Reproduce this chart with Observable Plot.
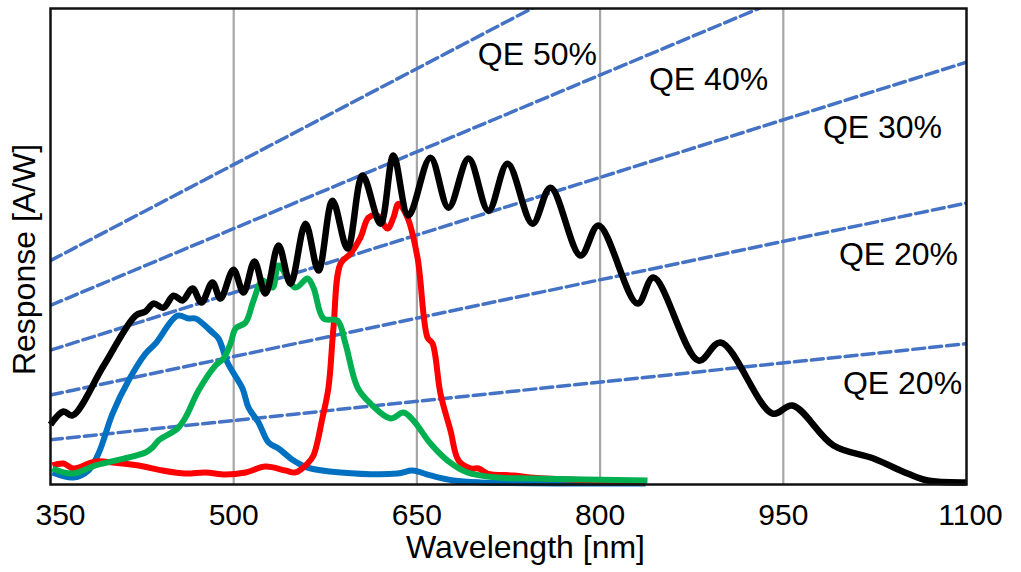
<!DOCTYPE html>
<html><head><meta charset="utf-8">
<script src="https://cdn.jsdelivr.net/npm/d3@7"></script>
<script src="https://cdn.jsdelivr.net/npm/@observablehq/plot@0.6"></script>
<style>body{margin:0;background:#fff;}</style>
</head><body><div id="chart"></div>
<script>
// ---- data (wavelength in nm, response in A/W) ----
const xTicks = [350, 500, 650, 800, 950, 1100];
const gridWavelengths = [500, 650, 800, 950];

const monoWavelength = [350, 360.6, 368, 393.6, 419.6, 427.8, 434.3, 442.5, 450.7, 458.1, 466.3, 473.6, 482.6, 489.2, 499.8, 508, 517, 526, 536.7, 546.5, 558.8, 569.4, 580.9, 593.2, 605.5, 620.2, 630.8, 643.1, 661.1, 675.9, 692.3, 708.6, 724.2, 744.7, 759.4, 784, 798.7, 830.6, 843.7, 880.6, 898.6, 941.2, 957.5, 991.1, 1023.9, 1051.7, 1068.1, 1100];
const monoResponse = [0.0378, 0.046, 0.0435, 0.075, 0.1064, 0.109, 0.114, 0.1115, 0.119, 0.116, 0.1235, 0.1147, 0.1273, 0.1172, 0.1354, 0.121, 0.1405, 0.1203, 0.1506, 0.1266, 0.1644, 0.1348, 0.1789, 0.1487, 0.1947, 0.1644, 0.2073, 0.1695, 0.206, 0.1745, 0.2054, 0.1726, 0.2022, 0.1644, 0.1871, 0.1443, 0.1632, 0.114, 0.1304, 0.0781, 0.0895, 0.0447, 0.0498, 0.0246, 0.0164, 0.0069, 0.0025, 0.0013];

const blueWavelength = [351.6, 368.8, 381.1, 389.3, 400.8, 413.9, 427.8, 436, 454, 463, 468.7, 482.6, 487.6, 494.9, 507.2, 512.1, 520.3, 528.5, 536.7, 549, 560.4, 587.5, 634.1, 646.4, 661.1, 680, 702.1, 837.2];
const blueResponse = [0.0076, 0.0044, 0.0088, 0.0195, 0.0447, 0.0655, 0.0825, 0.0888, 0.1064, 0.1046, 0.1046, 0.0958, 0.092, 0.0769, 0.0605, 0.0485, 0.0391, 0.0265, 0.0227, 0.0151, 0.0107, 0.0076, 0.0069, 0.0088, 0.0057, 0.0025, 0.0013, 0.0006];

const redWavelength = [351.6, 360.6, 368.8, 386.8, 400.8, 422.1, 441.7, 460.5, 476.9, 493.3, 509.7, 526, 542.4, 550.6, 560.4, 565.3, 572.7, 577.6, 581.7, 587.5, 595.6, 603.8, 610.4, 617.7, 625.9, 630.8, 634.9, 642.3, 650.5, 658.7, 662.8, 669.3, 677.5, 684.1, 693.9, 700.5, 707.8, 729.1, 743, 837.2];
const redResponse = [0.012, 0.0132, 0.0101, 0.0145, 0.0139, 0.012, 0.0088, 0.0069, 0.0076, 0.0063, 0.0076, 0.0113, 0.0088, 0.0076, 0.0132, 0.0183, 0.0422, 0.0611, 0.0989, 0.1392, 0.1455, 0.1556, 0.1682, 0.1695, 0.1613, 0.1682, 0.177, 0.1682, 0.143, 0.0926, 0.0888, 0.0573, 0.034, 0.0151, 0.0101, 0.0101, 0.0069, 0.0057, 0.0044, 0.0013];

const greenWavelength = [351.6, 368, 386.8, 427.8, 433.5, 438.4, 454, 460.5, 471.2, 485.1, 491.7, 497.4, 501.5, 509.7, 516.2, 523.6, 531.8, 536.7, 550.6, 560.4, 565.3, 573.5, 585, 591.5, 601.4, 612, 628.4, 639, 647.2, 661.1, 675.1, 691.4, 716, 743, 838.8];
const greenResponse = [0.0101, 0.0069, 0.012, 0.0202, 0.0233, 0.0277, 0.0353, 0.0422, 0.0592, 0.075, 0.0794, 0.0888, 0.0983, 0.1021, 0.1159, 0.1285, 0.1241, 0.138, 0.1241, 0.1298, 0.1241, 0.1046, 0.1033, 0.0888, 0.0611, 0.051, 0.0416, 0.0454, 0.0403, 0.0258, 0.0151, 0.0076, 0.0044, 0.0038, 0.0025];

// quantum-efficiency reference lines (percent)
const qeValues = [50, 40, 30, 20, 10];
const qeLabels = ["QE 50%", "QE 40%", "QE 30%", "QE 20%", "QE 20%"];
const qeLabelWavelength = [748.7, 888.8, 1031.2, 1044.3, 1047.6];
const qeLabelResponse = [0.2709, 0.2552, 0.2249, 0.1449, 0.0636];

// ---- build tables ----
const toRows = (xs, ys) => xs.map((x, i) => ({x, y: ys[i]}));
const mono = toRows(monoWavelength, monoResponse);
const blue = toRows(blueWavelength, blueResponse);
const red = toRows(redWavelength, redResponse);
const green = toRows(greenWavelength, greenResponse);
const qeRows = qeValues.flatMap(q => [350, 1100].map(w => ({qe: q, x: w, y: q / 100 * w / 1240})));
const labelRows = qeLabels.map((t, i) => ({t, x: qeLabelWavelength[i], y: qeLabelResponse[i]}));

const font = "'Liberation Sans', Arial, Helvetica, sans-serif";
const lineOpts = {x: "x", y: "y", curve: "catmull-rom", strokeWidth: 6, strokeLinejoin: "round", strokeLinecap: "butt"};
const axisOpts = {tickSize: 0, tickPadding: 19, fontSize: 30, tickFormat: d => String(d), label: null};

const chart = Plot.plot({
  width: 1021, height: 572,
  marginLeft: 50, marginRight: 55, marginTop: 8, marginBottom: 88,
  style: {fontFamily: font, background: "white", color: "black", overflow: "visible"},
  x: {domain: [350, 1100]},
  y: {domain: [0, 0.3], axis: null},
  marks: [
    Plot.ruleX(gridWavelengths, {stroke: "#a6a6a6", strokeWidth: 2.2}),
    Plot.line(qeRows, {x: "x", y: "y", z: "qe", stroke: "#4472C4", strokeWidth: 3.5, strokeDasharray: "12,5", clip: true}),
    Plot.line(blue, {...lineOpts, stroke: "#0070C0"}),
    Plot.line(red, {...lineOpts, stroke: "#FF0000"}),
    Plot.line(green, {...lineOpts, stroke: "#00B050"}),
    Plot.line(mono, {...lineOpts, stroke: "#000000", strokeWidth: 6.5}),
    Plot.text(labelRows, {x: "x", y: "y", text: "t", fontSize: 32, fill: "black", textAnchor: "middle"}),
    Plot.frame({stroke: "#111", strokeWidth: 2.5}),
    Plot.axisX([350], {...axisOpts, dx: 10}),
    Plot.axisX(xTicks.slice(1, -1), axisOpts),
    Plot.axisX([1100], {...axisOpts, dx: 4}),
    Plot.text(["Wavelength [nm]"], {text: d => d, frameAnchor: "bottom", textAnchor: "middle", dx: 17, dy: 73, fontSize: 32}),
    Plot.text(["Response [A/W]"], {text: d => d, frameAnchor: "left", textAnchor: "middle", rotate: -90, dx: -26, dy: 13, fontSize: 32})
  ]
});
document.getElementById("chart").appendChild(chart);
</script>
</body></html>
